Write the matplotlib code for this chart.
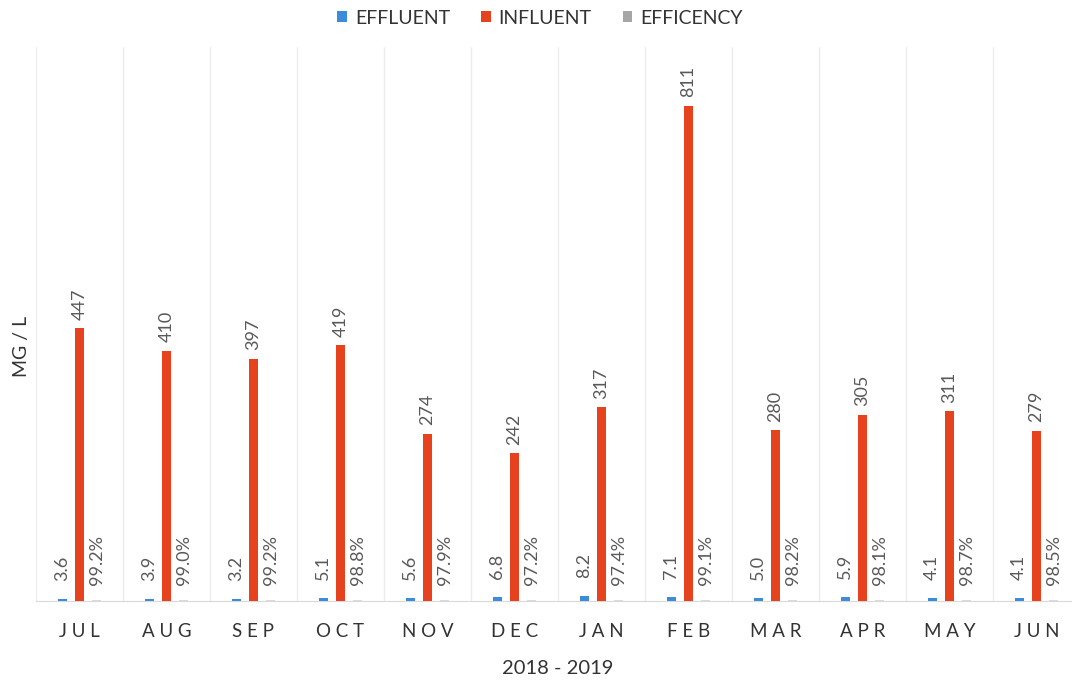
import matplotlib
matplotlib.use("Agg")
import matplotlib.pyplot as plt
import numpy as np

months = ["JUL", "AUG", "SEP", "OCT", "NOV", "DEC", "JAN", "FEB", "MAR", "APR", "MAY", "JUN"]
effluent = [3.6, 3.9, 3.2, 5.1, 5.6, 6.8, 8.2, 7.1, 5.0, 5.9, 4.1, 4.1]
influent = [447, 410, 397, 419, 274, 242, 317, 811, 280, 305, 311, 279]
efficiency = [99.2, 99.0, 99.2, 98.8, 97.9, 97.2, 97.4, 99.1, 98.2, 98.1, 98.7, 98.5]

plt.rcParams['font.family'] = ['Lato', 'DejaVu Sans']

W, H = 1072, 680
fig = plt.figure(figsize=(W / 100, H / 100), dpi=100)
ax = fig.add_axes([36 / W, (H - 601) / H, 1044 / W, (601 - 47) / H])

x = np.arange(len(months))
bw = 0.105
off = 0.2
c_eff, c_inf, c_efc = "#3b8ddb", "#e5421d", "#a6a6a6"
txt = "#595959"

b1 = ax.bar(x - off, effluent, bw, color=c_eff, label="EFFLUENT", zorder=3)
b2 = ax.bar(x, influent, bw, color=c_inf, label="INFLUENT", zorder=3)
b3 = ax.bar(x + off, [e / 100 for e in efficiency], bw, color=c_efc, label="EFFICENCY",
            zorder=1, alpha=0.4)

fs = 13
for xi, v in zip(x, effluent):
    ax.annotate(f"{v:.1f}", (xi - off, v), xytext=(0, 13), textcoords="offset points",
                rotation=90, ha="center", va="bottom", fontsize=fs, color=txt)
for xi, v in zip(x, influent):
    ax.annotate(f"{v}", (xi, v), xytext=(0, 6), textcoords="offset points",
                rotation=90, ha="center", va="bottom", fontsize=fs, color=txt)
for xi, v in zip(x, efficiency):
    ax.annotate(f"{v:.1f}%", (xi + off, v / 100), xytext=(0, 11), textcoords="offset points",
                rotation=90, ha="center", va="bottom", fontsize=fs, color=txt)

ax.set_xlim(-0.5, len(months) - 0.5)
ax.set_ylim(0, 907)
ax.set_xticks(x)
ax.set_xticklabels([" ".join(m) for m in months], fontsize=13.5, color="#333333")
ax.tick_params(axis="x", length=0, pad=16)
ax.set_yticks([])
ax.set_xticks(np.arange(-0.5, len(months)), minor=True)
ax.tick_params(axis="x", which="minor", length=0)
ax.grid(axis="x", which="minor", color="#ededed", linewidth=1, zorder=0)
for s in ["top", "right", "left"]:
    ax.spines[s].set_visible(False)
ax.spines["bottom"].set_color("#d9d9d9")

ax.set_ylabel("MG / L", fontsize=14, color="#333333")
ax.yaxis.set_label_coords(-6 / 1044, 0.46)
ax.set_xlabel("2018 - 2019", fontsize=14.5, color="#333333", labelpad=14)

fig.legend(handles=[b1, b2, b3], loc="center", bbox_to_anchor=(540 / W, 1 - 18 / H),
           ncol=3, frameon=False, fontsize=14, handlelength=0.5, handleheight=0.5,
           handletextpad=0.4, columnspacing=1.6, labelcolor="#333333")
for h in fig.legends[0].legend_handles:
    h.set_alpha(1)

fig.savefig("out.png", dpi=100)
